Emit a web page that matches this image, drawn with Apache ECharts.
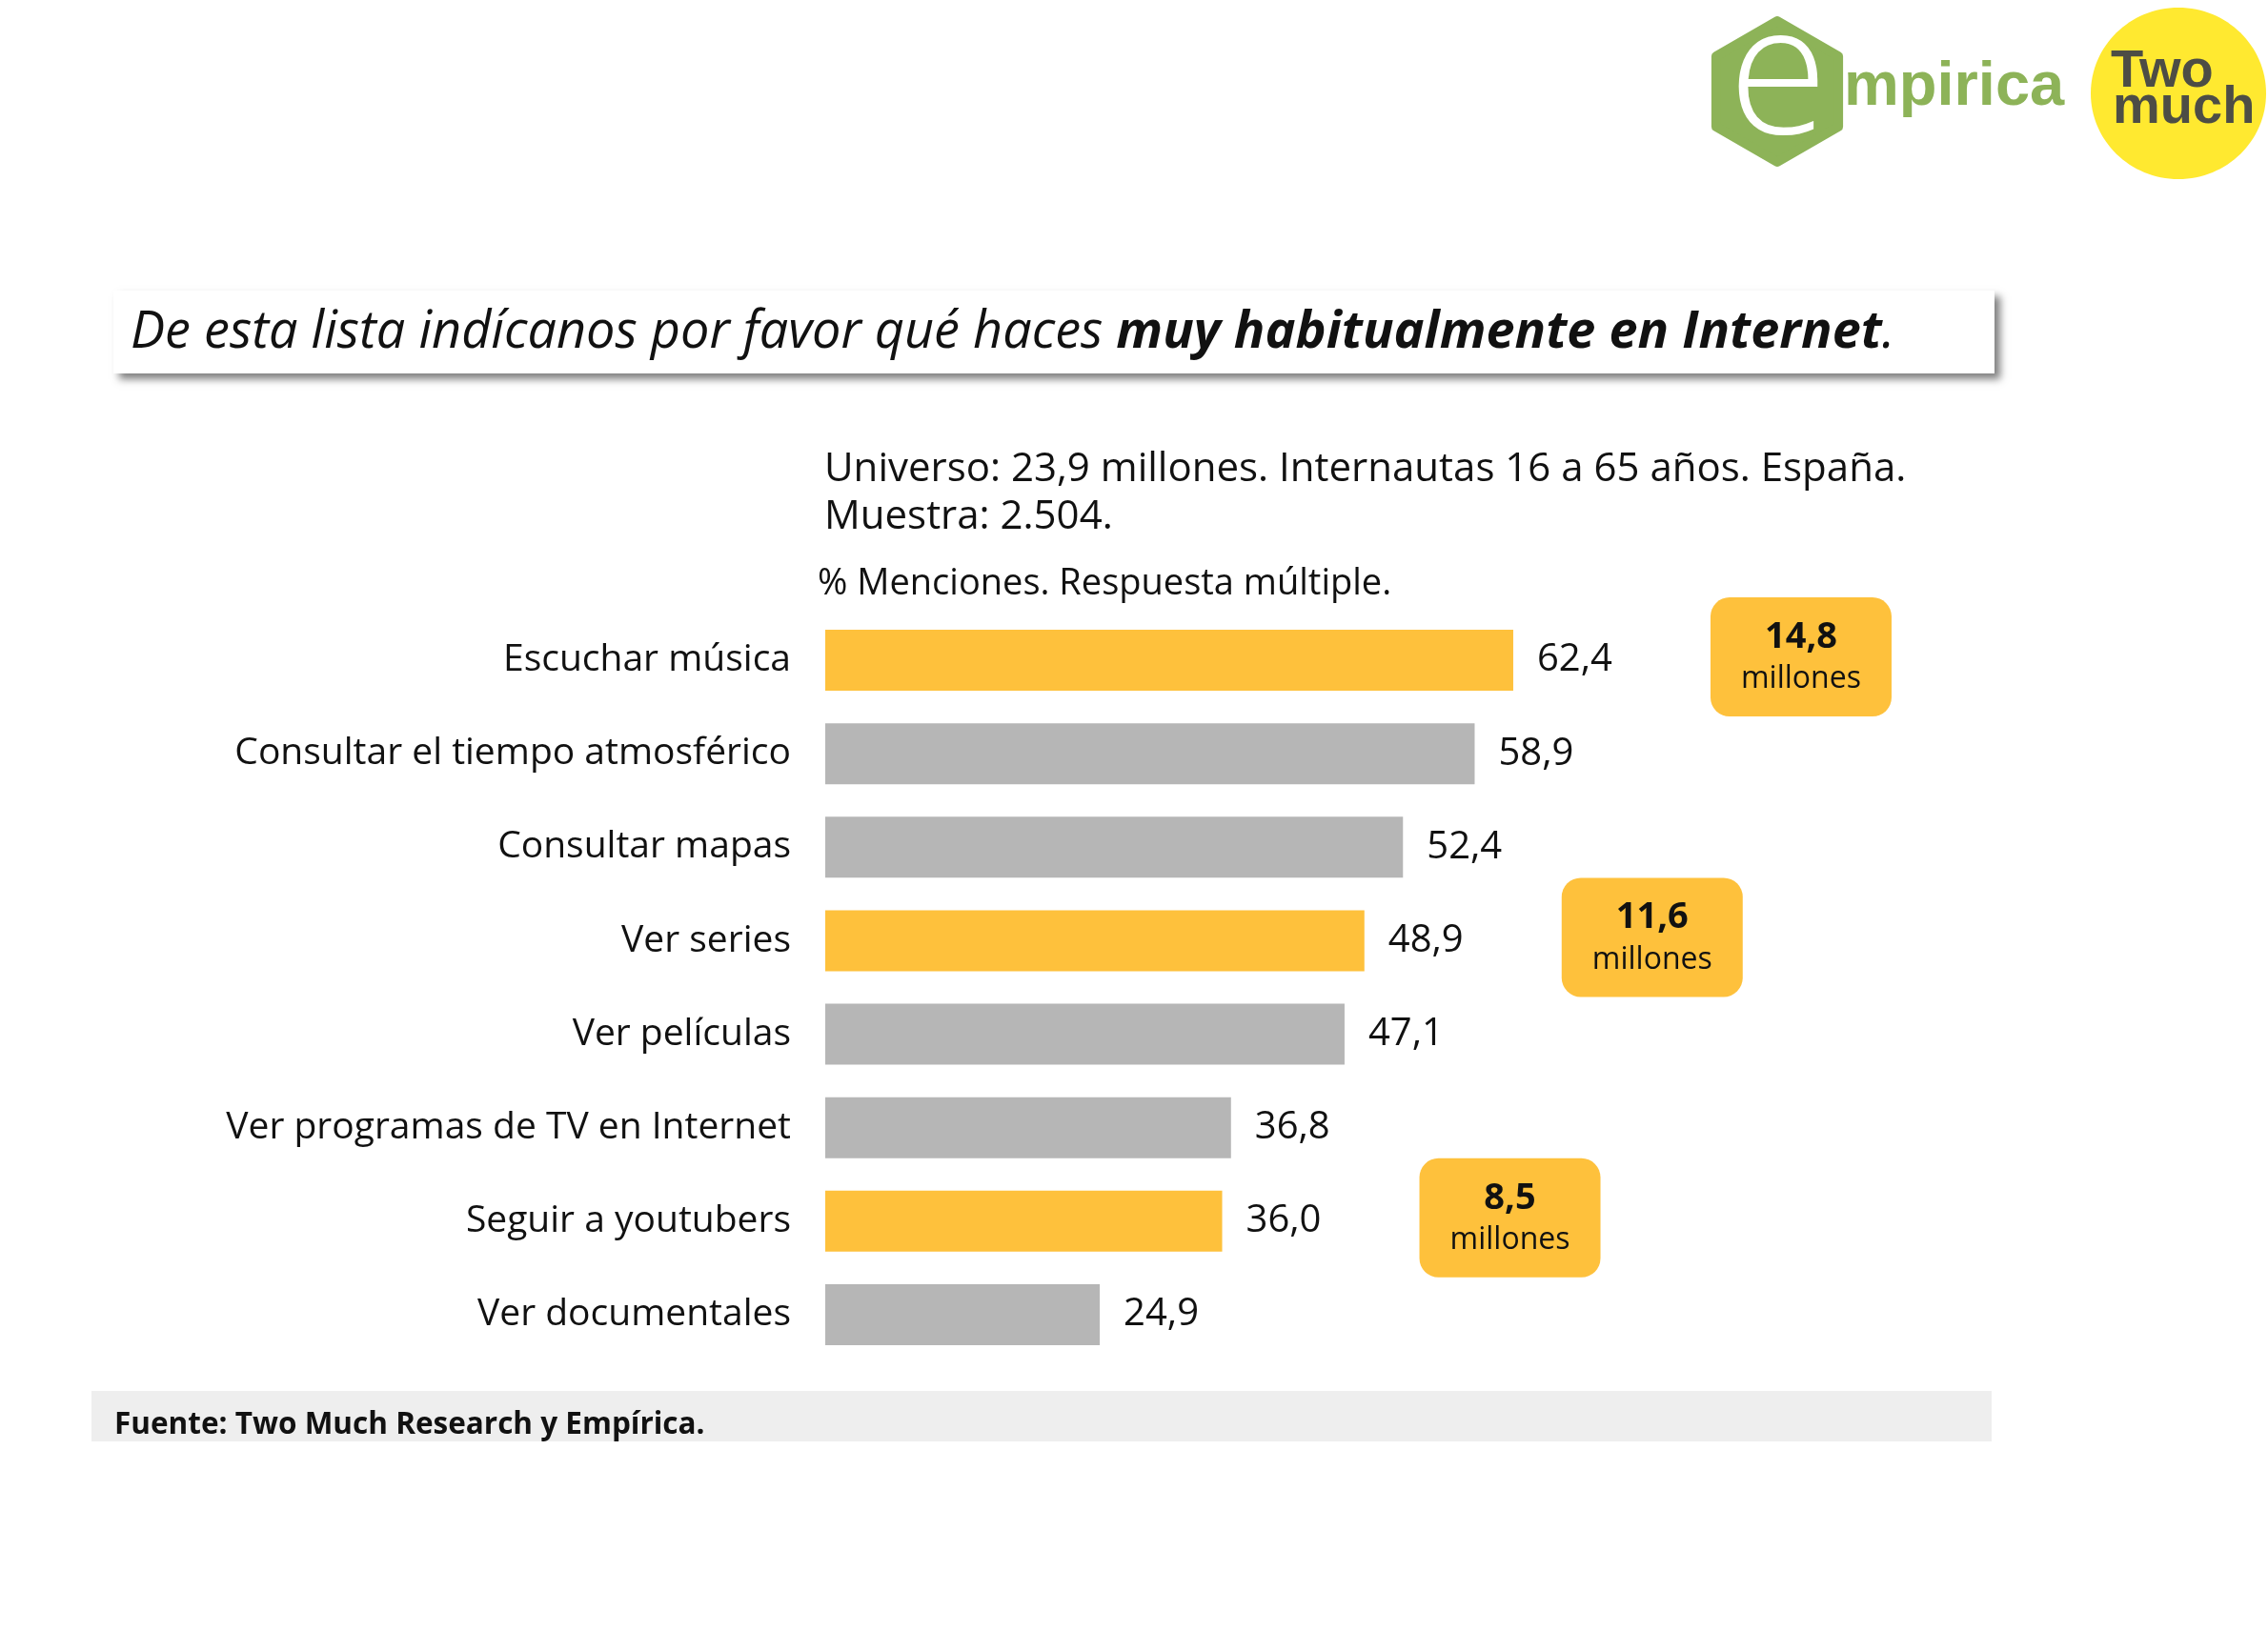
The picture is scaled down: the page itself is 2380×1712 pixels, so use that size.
<!DOCTYPE html>
<html><head><meta charset="utf-8">
<script src="https://cdn.jsdelivr.net/npm/echarts@6/dist/echarts.min.js"></script>
<style>html,body{margin:0;padding:0;background:#fff}#c{width:2380px;height:1712px}</style>
</head><body><div id="c"></div>
<script>
const categories = ['Escuchar música','Consultar el tiempo atmosférico','Consultar mapas','Ver series','Ver películas','Ver programas de TV en Internet','Seguir a youtubers','Ver documentales'];
const values = [62.4, 58.9, 52.4, 48.9, 47.1, 36.8, 36.0, 24.9];
const highlighted = ['Escuchar música','Ver series','Seguir a youtubers'];
const calloutMillions = ['14,8','11,6','8,5'];

const ORANGE = '#FEC13C', GRAY = '#B6B6B6';
const FONT = 'Open Sans';
const fmt = v => v.toFixed(1).replace('.', ',');

const chart = echarts.init(document.getElementById('c'));

const hexPts = [];
for (let i = 0; i < 6; i++) {
  const a = (-90 + i * 60) * Math.PI / 180;
  hexPts.push([1865 + 74 * Math.cos(a), 96 + 74 * Math.sin(a)]);
}

const calloutData = highlighted.map((c, i) => [values[categories.indexOf(c)], c, calloutMillions[i]]);

chart.setOption({
  animation: false,
  backgroundColor: '#fff',
  grid: { left: 866, width: 1157, top: 644, height: 785, containLabel: false },
  xAxis: { type: 'value', min: 0, max: 100, show: false },
  yAxis: {
    type: 'category', data: categories, inverse: true,
    axisLine: { show: false }, axisTick: { show: false },
    axisLabel: { color: '#111', fontSize: 39, fontFamily: FONT, margin: 36 }
  },
  series: [{
    type: 'bar', barWidth: 64,
    data: values.map((v, i) => ({ value: v, itemStyle: { color: highlighted.includes(categories[i]) ? ORANGE : GRAY } })),
    label: { show: true, position: 'right', distance: 25, color: '#111', fontSize: 40, fontFamily: FONT, formatter: p => fmt(p.value) }
  }, {
    type: 'custom',
    data: calloutData,
    encode: { x: 0, y: 1 },
    renderItem: (params, api) => {
      const p = api.coord([api.value(0), api.value(1)]);
      const cx = p[0] + 302, cy = p[1] - 4;
      const txt = calloutMillions[params.dataIndex];
      return {
        type: 'group', children: [
          { type: 'rect', shape: { x: cx - 95, y: cy - 62, width: 190, height: 125, r: 20 }, style: { fill: ORANGE } },
          { type: 'text', style: { text: txt, x: cx, y: cy - 20, align: 'center', verticalAlign: 'middle', fontSize: 38, fontWeight: 'bold', fontFamily: FONT, fill: '#111' } },
          { type: 'text', style: { text: 'millones', x: cx, y: cy + 24, align: 'center', verticalAlign: 'middle', fontSize: 32, fontFamily: FONT, fill: '#111' } }
        ]
      };
    }
  }],
  graphic: [
    { type: 'rect', shape: { x: 119, y: 305, width: 1974, height: 87 }, style: { fill: '#fff', shadowColor: 'rgba(0,0,0,0.5)', shadowBlur: 8, shadowOffsetX: 6, shadowOffsetY: 6 }, z: 1 },
    { type: 'text', z: 2, style: { x: 137, y: 350, verticalAlign: 'middle', fill: '#111', fontFamily: FONT, fontSize: 54,
      text: '{n|De esta lista indícanos por favor qué haces }{b|muy habitualmente en Internet}{n|.}',
      rich: { n: { fontStyle: 'italic', fontSize: 54, fontFamily: FONT, fill: '#111' }, b: { fontStyle: 'italic', fontWeight: 'bold', fontSize: 54, fontFamily: FONT, fill: '#111' } } } },
    { type: 'text', style: { x: 865, y: 493, verticalAlign: 'middle', text: 'Universo: 23,9 millones. Internautas 16 a 65 años. España.', fontSize: 42, fontFamily: FONT, fill: '#111' } },
    { type: 'text', style: { x: 865, y: 543, verticalAlign: 'middle', text: 'Muestra: 2.504.', fontSize: 42, fontFamily: FONT, fill: '#111' } },
    { type: 'text', style: { x: 858, y: 613, verticalAlign: 'middle', text: '% Menciones. Respuesta múltiple.', fontSize: 38, fontFamily: FONT, fill: '#111' } },
    { type: 'rect', shape: { x: 96, y: 1460, width: 1994, height: 53 }, style: { fill: '#EEEEEE' } },
    { type: 'text', style: { x: 120, y: 1496, verticalAlign: 'middle', text: 'Fuente: Two Much Research y Empírica.', fontSize: 31.5, fontWeight: 'bold', fontFamily: FONT, fill: '#111' } },
    { type: 'polygon', shape: { points: hexPts }, style: { fill: '#8DB358', lineJoin: 'round', stroke: '#8DB358', lineWidth: 10 } },
    { type: 'text', style: { x: 1866, y: 86, align: 'center', verticalAlign: 'middle', text: 'e', fontSize: 190, fontWeight: 300, fontFamily: FONT, fill: '#fff' } },
    { type: 'text', style: { x: 1935, y: 92, verticalAlign: 'middle', text: 'mpirica', fontSize: 65, fontWeight: 'bold', fontFamily: 'Liberation Sans', fill: '#8DB358' } },
    { type: 'ellipse', shape: { cx: 2286, cy: 98, rx: 92, ry: 90 }, style: { fill: '#FFE930' } },
    { type: 'text', style: { x: 2215, y: 76, verticalAlign: 'middle', text: 'Two', fontSize: 56, fontWeight: 'bold', fontFamily: 'Liberation Sans', fill: '#4D4D45' } },
    { type: 'text', style: { x: 2217, y: 114, verticalAlign: 'middle', text: 'much', fontSize: 56, fontWeight: 'bold', fontFamily: 'Liberation Sans', fill: '#4D4D45' } }
  ]
});
</script></body></html>
